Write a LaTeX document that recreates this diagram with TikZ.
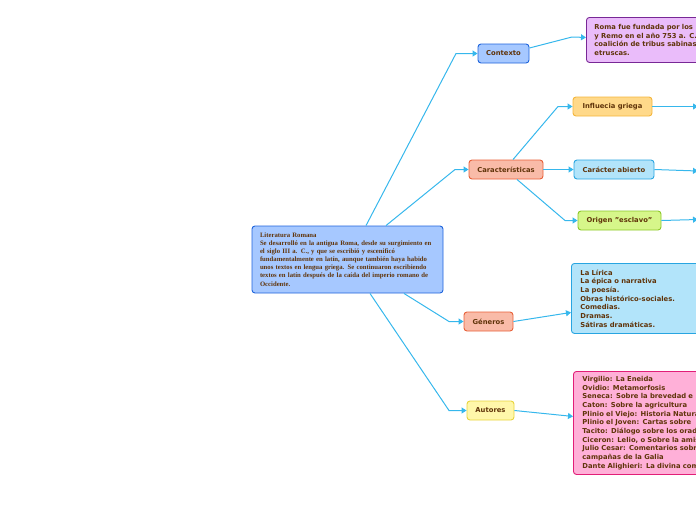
\documentclass[tikz,border=0pt]{standalone}
\usepackage{fontspec}
\usepackage{tikz}
\usetikzlibrary{shapes,arrows,arrows.meta,fit,positioning}
\setmainfont{DejaVu Sans}
\newfontfamily\notefont{Liberation Serif}
\definecolor{txt}{RGB}{96,52,10}
\definecolor{blueF}{RGB}{166,200,255}\definecolor{blueD}{RGB}{30,100,220}
\definecolor{lilacF}{RGB}{234,188,250}\definecolor{lilacD}{RGB}{120,40,150}
\definecolor{salmonF}{RGB}{249,187,168}\definecolor{salmonD}{RGB}{232,96,56}
\definecolor{orangeF}{RGB}{255,217,138}\definecolor{orangeD}{RGB}{244,182,60}
\definecolor{skyF}{RGB}{178,228,250}\definecolor{skyD}{RGB}{40,165,225}
\definecolor{limeF}{RGB}{214,246,138}\definecolor{limeD}{RGB}{140,200,40}
\definecolor{yellowF}{RGB}{255,247,170}\definecolor{yellowD}{RGB}{232,212,60}
\definecolor{pinkF}{RGB}{255,176,216}\definecolor{pinkD}{RGB}{225,30,120}
\definecolor{linkC}{RGB}{54,183,236}
\tikzset{
  topic/.style={draw, line width=0.9pt, rounded corners=3pt, text=txt,
    font=\fontsize{6.8}{7}\selectfont\bfseries, minimum height=19pt, inner sep=0pt},
  note/.style={topic, anchor=north west, align=left, text width=220pt, inner xsep=8pt,
    font=\fontsize{6.8}{8.7}\selectfont\bfseries},
  link/.style={draw=linkC, line width=1pt, -{Triangle[length=5pt,width=6pt]}}
}
\begin{document}
\begin{tikzpicture}[x=1pt,y=-1pt]
\clip (0,0) rectangle (696,520);
\useasboundingbox (0,0) rectangle (696,520);
\node[topic, fill=blueF, draw=blueD, text width=175pt, minimum height=67pt,
  align=left, inner xsep=8pt, font=\notefont\fontsize{6.7}{8.1}\selectfont\bfseries] (lit) at (347.5,259.5)
  {Literatura Romana\\
   Se desarrolló en la antigua Roma, desde su surgimiento en\\
   el siglo III a. C., y que se escribió y escenificó\\
   fundamentalmente en latín, aunque también haya habido\\
   unos textos en lengua griega. Se continuaron escribiendo\\
   textos en latín después de la caída del imperio romano de\\
   Occidente.};
\node[topic, fill=blueF, draw=blueD, minimum width=51pt] (contexto) at (503.5,53.5) {Contexto};
\node[topic, fill=salmonF, draw=salmonD, minimum width=74pt] (caract) at (506,169.5) {Características};
\node[topic, fill=orangeF, draw=orangeD, minimum width=79pt] (influ) at (612.5,106.5) {Influecia griega};
\node[topic, fill=skyF, draw=skyD, minimum width=80pt] (caracter) at (614,169.5) {Carácter abierto};
\node[topic, fill=limeF, draw=limeD, minimum width=83pt] (origen) at (619.5,220.5) {Origen "esclavo"};
\node[topic, fill=salmonF, draw=salmonD, minimum width=49pt] (generos) at (488.5,321.5) {Géneros};
\node[topic, fill=yellowF, draw=yellowD, minimum width=47pt] (autores) at (490.5,410.5) {Autores};
\node[note, fill=lilacF, draw=lilacD, minimum height=45pt] (roma) at (586,17)
  {Roma fue fundada por los\\ y Remo en el año 753 a. C.\\ coalición de tribus sabinas\\ etruscas.};
\node[note, fill=skyF, draw=skyD, minimum height=70pt, inner xsep=9pt] (genlist) at (571,263)
  {La Lírica\\ La épica o narrativa\\ La poesía.\\ Obras histórico-sociales.\\ Comedias.\\ Dramas.\\ Sátiras dramáticas.};
\node[note, fill=pinkF, draw=pinkD, minimum height=103pt, inner xsep=9pt] (autlist) at (573,371)
  {Virgilio: La Eneida\\ Ovidio: Metamorfosis\\ Seneca: Sobre la brevedad e\\ Caton: Sobre la agricultura\\
   Plinio el Viejo: Historia Natural\\ Plinio el Joven: Cartas sobre\\ Tacito: Diálogo sobre los oradores\\
   Ciceron: Lelio, o Sobre la amistad\\ Julio Cesar: Comentarios sobre\\ campañas de la Galia\\
   Dante Alighieri: La divina comedia};
\coordinate (influout) at (698,106.5);
\coordinate (caracterout) at (698,171);
\coordinate (origenout) at (698,219.5);
\draw[link] ([xshift=18.5pt]lit.north) -- (456,53.5) -- (contexto.west);
\draw[link] ([xshift=38.5pt]lit.north) -- (455,169.5) -- (caract.west);
\draw[link] ([xshift=56.5pt]lit.south) -- (449,321.5) -- (generos.west);
\draw[link] ([xshift=22.5pt]lit.south) -- (449,410.5) -- (autores.west);
\draw[link] ([yshift=5.5pt]contexto.east) -- (572,37) -- ([yshift=2.5pt]roma.west);
\draw[link] ([xshift=7pt]caract.north) -- (558,106.5) -- (influ.west);
\draw[link] (caract.east) -- (caracter.west);
\draw[link] ([xshift=11pt]caract.south) -- (565,220.5) -- (origen.west);
\draw[link] (generos.east) -- ([yshift=-14pt]genlist.west);
\draw[link] (autores.east) -- ([yshift=6.5pt]autlist.west);
\draw[link] (influ.east) -- (influout);
\draw[link] (caracter.east) -- (caracterout);
\draw[link] (origen.east) -- (origenout);
\end{tikzpicture}
\end{document}
